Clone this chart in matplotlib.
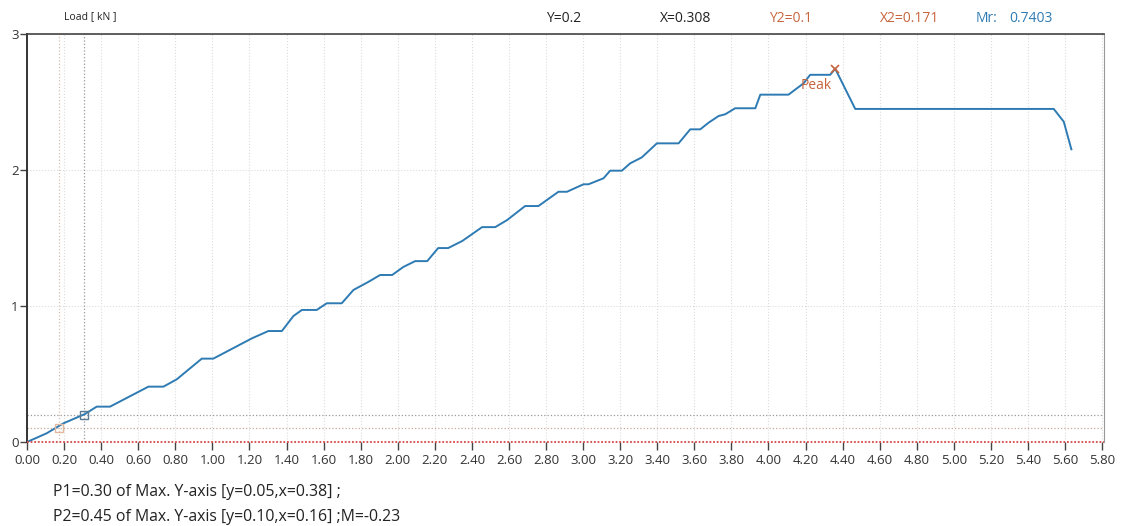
import numpy as np
import matplotlib
matplotlib.use("Agg")
import matplotlib.pyplot as plt

plt.rcParams['font.family'] = ['Open Sans', 'DejaVu Sans']

# load curve (displacement, load kN)
disp = [0.0, 0.106, 0.196, 0.313, 0.376, 0.448, 0.655, 0.736, 0.808, 0.943,
        1.005, 1.213, 1.302, 1.375, 1.437, 1.483, 1.563, 1.617, 1.698, 1.761,
        1.84, 1.905, 1.97, 2.03, 2.094, 2.159, 2.218, 2.272, 2.348, 2.455,
        2.526, 2.59, 2.687, 2.759, 2.867, 2.913, 3.002, 3.029, 3.11, 3.146,
        3.209, 3.254, 3.317, 3.398, 3.515, 3.578, 3.632, 3.677, 3.731, 3.767,
        3.82, 3.929, 3.956, 4.108, 4.189, 4.225, 4.333, 4.36, 4.468, 5.539,
        5.593, 5.634]
load = [0.0, 0.064, 0.137, 0.206, 0.26, 0.26, 0.407, 0.407, 0.461, 0.613,
        0.613, 0.762, 0.816, 0.816, 0.926, 0.971, 0.971, 1.02, 1.02, 1.118,
        1.176, 1.228, 1.228, 1.287, 1.33, 1.33, 1.426, 1.426, 1.478, 1.58,
        1.58, 1.632, 1.735, 1.735, 1.84, 1.84, 1.895, 1.895, 1.939, 1.995,
        1.995, 2.049, 2.093, 2.196, 2.196, 2.299, 2.299, 2.348, 2.397, 2.41,
        2.454, 2.454, 2.554, 2.554, 2.637, 2.7, 2.7, 2.745, 2.449, 2.449,
        2.355, 2.152]

peak_x, peak_y = 4.36, 2.745
p1 = (0.308, 0.2)
p2 = (0.171, 0.1)
xticks = np.round(np.arange(0, 5.81, 0.2), 2)
yticks = [0, 1, 2, 3]

blue = '#2e7bb3'
orange = '#c8643c'

fig = plt.figure(figsize=(11.23, 5.26), dpi=100)
ax = fig.add_axes([27/1123, 1 - 442/526, (1104 - 27)/1123, (442 - 34)/526])

ax.set_xlim(0, 5.81)
ax.set_ylim(0, 3)
ax.set_xticks(xticks)
ax.set_xticklabels([f'{t:.2f}' for t in xticks], fontsize=9.5, color='#333333')
ax.set_yticks(yticks)
ax.set_yticklabels([str(t) for t in yticks], fontsize=9.5, color='#333333')
ax.tick_params(axis='x', length=6, width=1, color='#444444', pad=3)
ax.tick_params(axis='y', length=5, width=1, color='#444444', pad=1)

ax.grid(True, color='#dcdcdc', linestyle=':', linewidth=0.8)
ax.set_axisbelow(True)

ax.spines['left'].set_color('#333333')
ax.spines['left'].set_linewidth(1.4)
ax.spines['top'].set_color('#444444')
ax.spines['top'].set_linewidth(1.2)
ax.spines['right'].set_color('#999999')
ax.spines['bottom'].set_visible(False)

# reference lines
ax.axhline(0, color='#d84848', linestyle=(0, (1, 1)), linewidth=1.3, clip_on=False, zorder=5)
ax.axhline(p1[1], color='#999999', linestyle=':', linewidth=0.9)
ax.axhline(p2[1], color='#c8a898', linestyle=':', linewidth=0.9)
ax.axvline(p1[0], color='#999999', linestyle=':', linewidth=0.9)
ax.axvline(p2[0], color='#d8c0b0', linestyle=':', linewidth=0.9)

ax.plot(disp, load, color=blue, linewidth=1.4, zorder=3)
ax.plot([p1[0]], [p1[1]], marker='s', markersize=6, markerfacecolor='none',
        markeredgecolor='#5a7a90', zorder=4)
ax.plot([p2[0]], [p2[1]], marker='s', markersize=6, markerfacecolor='none',
        markeredgecolor='#e0b8a0', zorder=4)
ax.plot([peak_x], [peak_y], marker='x', markersize=6, color=orange,
        markeredgewidth=1.2, zorder=4)
ax.text(peak_x - 0.02, peak_y - 0.07, 'Peak', color=orange, fontsize=10,
        ha='right', va='top')

# header
fig.text(64/1123, 1 - 17/526, 'Load [ kN ]', fontsize=7.5, color='#222222', va='center')
fig.text(546/1123, 1 - 18/526, 'Y=0.2', fontsize=10, color='#222222', va='center')
fig.text(660/1123, 1 - 18/526, 'X=0.308', fontsize=10, color='#222222', va='center')
fig.text(769/1123, 1 - 18/526, 'Y2=0.1', fontsize=10, color=orange, va='center')
fig.text(880/1123, 1 - 18/526, 'X2=0.171', fontsize=10, color=orange, va='center')
fig.text(976/1123, 1 - 18/526, 'Mr:', fontsize=10, color=blue, va='center')
fig.text(1009/1123, 1 - 19/526, '0.7403', fontsize=10, color=blue, va='center')

# footer
fig.text(53/1123, 1 - 492/526, 'P1=0.30 of Max. Y-axis [y=0.05,x=0.38] ;',
         fontsize=11.4, color='#222222', va='center')
fig.text(53/1123, 1 - 517/526, 'P2=0.45 of Max. Y-axis [y=0.10,x=0.16] ;M=-0.23',
         fontsize=11.4, color='#222222', va='center')

fig.savefig('out.png', dpi=100)
